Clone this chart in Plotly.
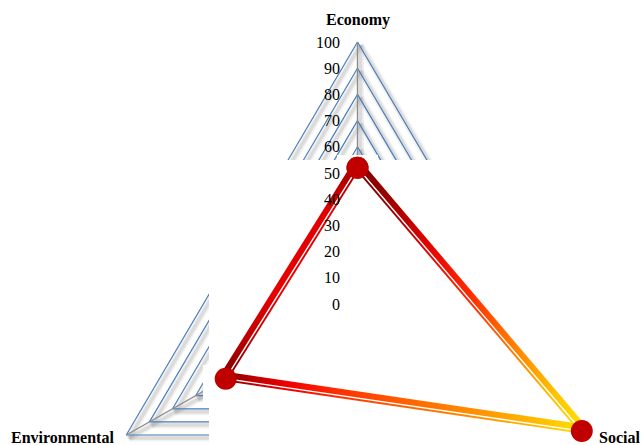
import numpy as np
import plotly.graph_objects as go

# ---------------- data ----------------
categories = ["Economy", "Social", "Environmental"]
values = [52, 97, 57]
radial_ticks = [0, 10, 20, 30, 40, 50, 60, 70, 80, 90, 100]
tick_labels = ["0", "10", "20", "30", "40", "50", "60", "70", "80", "90", "100"]
grid_levels = [10, 20, 30, 40, 50, 60, 70, 80, 90, 100]

# ---------------- geometry (pixel layout of the radar) ----------------
W, H = 641, 445
CX, CY = 357.5, 304.0     # radar centre in pixels
KX, KY = 2.67, 2.62       # pixels per value unit (x / y)
R_MAX = 100

x_range = [(0 - CX) / KX, (W - CX) / KX]
y_range = [(CY - H) / KY, CY / KY]

n_cat = len(categories)
angles = np.deg2rad(np.arange(n_cat) * 360.0 / n_cat)   # clockwise from top


def to_xy(r, ang):
    return r * np.sin(ang), r * np.cos(ang)


def px2x(px):
    return (px - CX) / KX


def py2y(py):
    return (CY - py) / KY


def x2px(x):
    return CX + x * KX


def y2py(y):
    return CY - y * KY


BLUE = "#4A7EBB"
SPOKE = "#8C8C8C"
SERIF = "Liberation Serif"

fig = go.Figure()

# ---------------- grid (with soft shadow) ----------------
def grid_paths():
    paths = []
    for lv in grid_levels:
        xs, ys = to_xy(lv, np.append(angles, angles[0]))
        paths.append(("ring", list(xs), list(ys)))
    for a in angles:
        xe, ye = to_xy(R_MAX, a)
        paths.append(("spoke", [0, xe], [0, ye]))
    return paths


sdx, sdy = 3.0 / KX, -3.0 / KY
for kind, xs, ys in grid_paths():
    for w, op in [(7, 0.055), (3.5, 0.09)]:
        fig.add_trace(go.Scatter(
            x=[v + sdx for v in xs], y=[v + sdy for v in ys], mode="lines",
            line=dict(color=f"rgba(0,0,0,{op})", width=w),
            hoverinfo="skip", showlegend=False))
for kind, xs, ys in grid_paths():
    fig.add_trace(go.Scatter(
        x=xs, y=ys, mode="lines",
        line=dict(color=BLUE if kind == "ring" else SPOKE,
                  width=1.2 if kind == "ring" else 1.4),
        hoverinfo="skip", showlegend=False))

# ---------------- white overlay panels ----------------
panels_px = [
    (209, 160, 641, 445),
    (337, 155, 378, 161),
    (203, 365, 210, 404),
]
wx, wy = [], []
for (x0, y0, x1, y1) in panels_px:
    wx += [px2x(x0), px2x(x1), px2x(x1), px2x(x0), px2x(x0), None]
    wy += [py2y(y0), py2y(y0), py2y(y1), py2y(y1), py2y(y0), None]
fig.add_trace(go.Scatter(x=wx, y=wy, mode="lines", fill="toself",
                         fillcolor="white", line=dict(width=0, color="white"),
                         hoverinfo="skip", showlegend=False))

# ---------------- data series ----------------
dx_, dy_ = to_xy(np.array(values, dtype=float), angles)
px_pts = [(x2px(a), y2py(b)) for a, b in zip(dx_, dy_)]
gcx = sum(p[0] for p in px_pts) / n_cat
gcy = sum(p[1] for p in px_pts) / n_cat

edge_styles = [
    # Economy -> Social : thick band on the outer side
    ("horizontal", +1, [[0, "#7C0000"], [0.15, "#9E0000"], [0.3, "#E00000"],
                        [0.5, "#FF2A00"], [0.7, "#FF8000"], [0.87, "#FFC000"],
                        [1, "#FFE000"]]),
    # Social -> Environmental : thick band on the inner side
    ("horizontal", -1, [[0, "#7C0000"], [0.08, "#C00000"], [0.18, "#F00000"],
                        [0.32, "#FF3000"], [0.5, "#FF6000"], [0.7, "#FF9000"],
                        [0.86, "#FFB800"], [1, "#FFE000"]]),
    # Environmental -> Economy : thick band on the outer side
    ("vertical", +1, [[0, "#7C0000"], [0.2, "#C00000"], [0.4, "#E80000"],
                      [0.8, "#E00000"], [1, "#A00000"]]),
]

THICK, THIN = 6.8, 2.6   # band extent (px) on each side of the series line
for i in range(n_cat):
    j = (i + 1) % n_cat
    (p1x, p1y), (p2x, p2y) = px_pts[i], px_pts[j]
    L = np.hypot(p2x - p1x, p2y - p1y)
    nx, ny = -(p2y - p1y) / L, (p2x - p1x) / L
    mx, my = (p1x + p2x) / 2, (p1y + p2y) / 2
    if nx * (mx - gcx) + ny * (my - gcy) < 0:   # make normal point outward
        nx, ny = -nx, -ny
    orient, side, cs = edge_styles[i]
    a, b = side * THICK, -side * THIN
    corners = [(p1x + nx * a, p1y + ny * a), (p2x + nx * a, p2y + ny * a),
               (p2x + nx * b, p2y + ny * b), (p1x + nx * b, p1y + ny * b)]
    corners.append(corners[0])
    cx_ = [px2x(c[0]) for c in corners]
    cy_ = [py2y(c[1]) for c in corners]
    if orient == "horizontal":
        lo, hi = min(dx_[i], dx_[j]), max(dx_[i], dx_[j])
    else:
        lo, hi = min(dy_[i], dy_[j]), max(dy_[i], dy_[j])
    fig.add_trace(go.Scatter(
        x=cx_, y=cy_, mode="lines", fill="toself",
        fillgradient=dict(type=orient, colorscale=cs, start=lo, stop=hi),
        line=dict(width=0, color="rgba(0,0,0,0)"),
        hoverinfo="skip", showlegend=False))

fig.add_trace(go.Scatter(
    x=list(dx_) + [dx_[0]], y=list(dy_) + [dy_[0]],
    mode="lines+markers",
    line=dict(color="white", width=1.4),
    marker=dict(size=22, color="#C00000"),
    cliponaxis=False, hoverinfo="skip", showlegend=False))

# ---------------- text ----------------
ann = []
for t, lab in zip(radial_ticks, tick_labels):
    ann.append(dict(x=px2x(342), y=t, xref="x", yref="y", text=lab,
                    showarrow=False, xanchor="right", yanchor="middle",
                    font=dict(family=SERIF, size=16, color="black")))

label_pos = [
    dict(x=px2x(357.5), y=py2y(20), xanchor="center"),
    dict(x=px2x(597), y=py2y(437), xanchor="left"),
    dict(x=px2x(116), y=py2y(437), xanchor="right"),
]
for cat, pos in zip(categories, label_pos):
    ann.append(dict(x=pos["x"], y=pos["y"], xref="x", yref="y",
                    text=f"<b>{cat}</b>", showarrow=False,
                    xanchor=pos["xanchor"], yanchor="middle",
                    font=dict(family=SERIF, size=16, color="black")))

fig.update_layout(
    width=W, height=H,
    margin=dict(l=0, r=0, t=0, b=0),
    paper_bgcolor="white", plot_bgcolor="white",
    xaxis=dict(range=x_range, visible=False, fixedrange=True),
    yaxis=dict(range=y_range, visible=False, fixedrange=True),
    showlegend=False, hovermode=False,
    annotations=ann,
)

fig.write_html("out.html")
